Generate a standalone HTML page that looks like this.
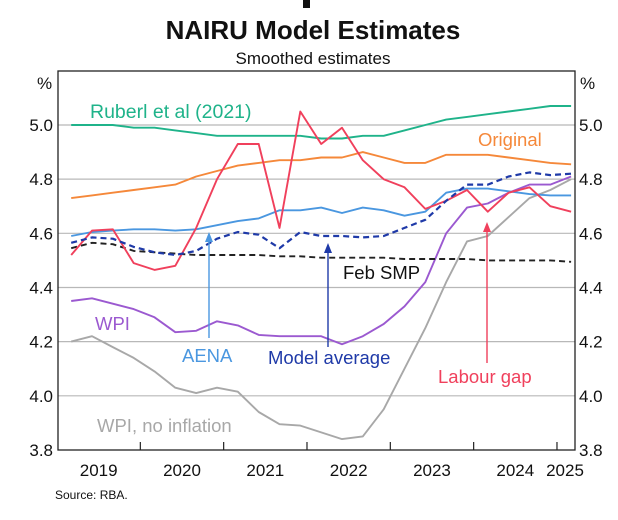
<!DOCTYPE html>
<html><head><meta charset="utf-8"><style>
body{margin:0;background:#fff;width:618px;height:520px;overflow:hidden;font-family:"Liberation Sans",sans-serif}
svg{display:block}
</style></head><body>
<svg id="c" width="618" height="520" font-family="Liberation Sans, sans-serif">
<rect x="303" y="0" width="7" height="8" fill="#111"/>
<text x="313" y="39" text-anchor="middle" font-size="26" font-weight="bold" fill="#111">NAIRU Model Estimates</text>
<text x="313" y="64" text-anchor="middle" font-size="17" fill="#111">Smoothed estimates</text>
<g id="grid"></g>
<g id="series"></g>
<g id="labels"></g>
<text x="55" y="499" font-size="12" fill="#111">Source:   RBA.</text>
</svg>
<script>
const yTicks=[3.8,4.0,4.2,4.4,4.6,4.8,5.0];
const years=[2019,2020,2021,2022,2023,2024,2025];
const ruberl=[5.00,5.00,5.00,4.99,4.99,4.98,4.97,4.96,4.96,4.96,4.96,4.96,4.95,4.95,4.96,4.96,4.98,5.00,5.02,5.03,5.04,5.05,5.06,5.07,5.07];
const original=[4.73,4.74,4.75,4.76,4.77,4.78,4.81,4.83,4.85,4.86,4.87,4.87,4.88,4.88,4.90,4.88,4.86,4.86,4.89,4.89,4.89,4.88,4.87,4.86,4.855];
const labourGap=[4.52,4.61,4.615,4.49,4.465,4.48,4.62,4.80,4.93,4.93,4.62,5.05,4.93,4.99,4.87,4.80,4.77,4.69,4.72,4.76,4.68,4.75,4.77,4.70,4.68];
const aena=[4.59,4.605,4.61,4.615,4.615,4.61,4.615,4.63,4.645,4.655,4.685,4.685,4.695,4.675,4.695,4.685,4.665,4.68,4.75,4.765,4.765,4.755,4.745,4.74,4.74];
const modelAvg=[4.565,4.585,4.58,4.55,4.53,4.52,4.535,4.58,4.605,4.595,4.545,4.605,4.59,4.59,4.585,4.59,4.62,4.65,4.72,4.78,4.78,4.81,4.825,4.815,4.82];
const febSmp=[4.545,4.565,4.56,4.535,4.53,4.525,4.52,4.52,4.52,4.52,4.515,4.515,4.51,4.51,4.51,4.51,4.505,4.505,4.505,4.505,4.50,4.50,4.50,4.50,4.495];
const wpi=[4.35,4.36,4.34,4.32,4.29,4.235,4.24,4.275,4.26,4.225,4.22,4.22,4.22,4.19,4.22,4.265,4.33,4.42,4.60,4.695,4.71,4.75,4.78,4.78,4.81];
const wpiNoInfl=[4.20,4.22,4.18,4.14,4.09,4.03,4.01,4.03,4.015,3.94,3.895,3.89,3.865,3.84,3.85,3.95,4.10,4.25,4.42,4.57,4.59,4.66,4.73,4.76,4.80];
const startYear=2019.17;
const L=58,R=575,T=71,B=450;
const X=t=>57+(t-2019)*83.33;
const Y=v=>125+(5.0-v)*270.8;
const NS="http://www.w3.org/2000/svg";
function mk(tag,attrs,parent,text){const e=document.createElementNS(NS,tag);for(const k in attrs)e.setAttribute(k,attrs[k]);if(text!==undefined)e.textContent=text;document.getElementById(parent).appendChild(e);return e;}
yTicks.forEach(v=>{
  if(v>3.8){const g=mk('line',{x1:L,x2:R,y1:Y(v),y2:Y(v),stroke:'#b8b8b8','stroke-width':1.2},'grid');
  
  }
  const a=mk('text',{x:53,y:Y(v)+6,'text-anchor':'end','font-size':17,fill:'#111'},'grid',v.toFixed(1));
  
  
  const b=mk('text',{x:579,y:Y(v)+6,'font-size':17,fill:'#111'},'grid',v.toFixed(1));
  
  
});
const pl=mk('text',{x:37,y:89,'font-size':17,fill:'#111'},'grid','%');


const pr=mk('text',{x:580,y:89,'font-size':17,fill:'#111'},'grid','%');


years.forEach((yr,i)=>{
  if(i<years.length-1){const tk=mk('line',{x1:X(yr+1),x2:X(yr+1),y1:B,y2:B-8,stroke:'#222','stroke-width':1.2},'grid');
  
  }
  const cx=yr===2025?565:X(yr+0.5);
  const t=mk('text',{x:cx,y:476,'text-anchor':'middle','font-size':17,fill:'#111'},'grid',String(yr));
  
  
});
const fr=mk('rect',{x:L,y:T,width:R-L,height:B-T,fill:'none',stroke:'#222','stroke-width':1.3},'grid');


function line(data,color,name,dash,w){
  const d=data.map((v,i)=>(i?'L':'M')+X(startYear+0.25*i).toFixed(1)+','+Y(v).toFixed(1)).join('');
  const p=mk('path',{d:d,fill:'none',stroke:color,'stroke-width':w||1.9,'stroke-linejoin':'round'},'series');
  if(dash)p.setAttribute('stroke-dasharray',dash);
  
  
}
line(wpiNoInfl,'#a8a8a8','wpi-no-inflation-line');
line(wpi,'#9b59d0','wpi-line');
line(febSmp,'#222','feb-smp-line','6,4',1.9);
line(aena,'#4a97e0','aena-line');
line(ruberl,'#1fb38a','ruberl-line');
line(original,'#f5883a','original-line');
line(labourGap,'#f0405c','labour-gap-line');
line(modelAvg,'#1f3aa8','model-average-line','6,4',2.2);
function arrow(x,y1,y2,color,name){
  const l=mk('line',{x1:x,x2:x,y1:y1,y2:y2+6,stroke:color,'stroke-width':1.4},'labels');
  
  
  const h=mk('path',{d:`M${x-4},${y2+10}L${x},${y2}L${x+4},${y2+10}Z`,fill:color},'labels');
  
  
}
arrow(209,338,232,'#4a97e0','aena-arrow');
arrow(328,347,243,'#1f3aa8','model-average-arrow');
arrow(487,363,222,'#f0405c','labour-gap-arrow');
function lab(txt,x,y,color,name,fs){const t=mk('text',{x:x,y:y,'font-size':fs||18.5,fill:color},'labels',txt);
  
  }
lab('Ruberl et al (2021)',90,118,'#1fb38a','ruberl-label',19.5);
lab('Original',478,146,'#f5883a','original-label');
lab('Feb SMP',343,279,'#111','feb-smp-label');
lab('WPI',95,330,'#9b59d0','wpi-label');
lab('AENA',182,362,'#4a97e0','aena-label');
lab('Model average',268,364,'#1f3aa8','model-average-label');
lab('Labour gap',438,383,'#f0405c','labour-gap-label');
lab('WPI, no inflation',97,432,'#a8a8a8','wpi-no-inflation-label');
</script>
</body></html>
